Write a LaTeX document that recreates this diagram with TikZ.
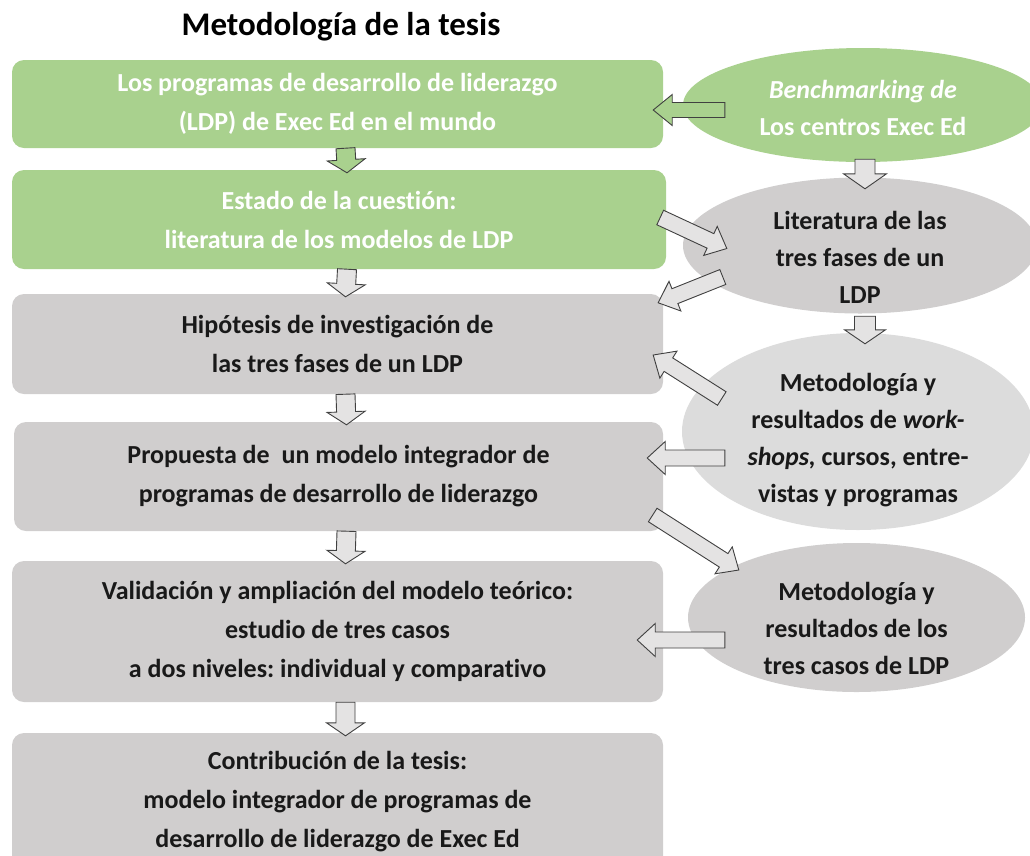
\documentclass[tikz,border=0pt]{standalone}
\usepackage{fontspec}
\setmainfont{Carlito}[Ligatures={NoCommon}]
\usetikzlibrary{shapes.geometric, calc}
\frenchspacing

\definecolor{ldpgreen}{HTML}{A9D18E}
\definecolor{boxgrey}{HTML}{D0CECE}
\definecolor{ovalgrey}{HTML}{DCDCDC}
\definecolor{arrowgrey}{HTML}{E4E3E3}

\newcommand{\boxfont}{\bfseries\fontsize{26}{39}\selectfont}
\newcommand{\ovalfont}{\bfseries\fontsize{26}{37}\selectfont}

% block arrow: [style]{tail}{tip}{half shaft}{half head}{head length}
\newcommand{\blkarrow}[6][blk, fill=arrowgrey]{%
  \coordinate (hb) at ($(#3)!#6!(#2)$);
  \draw[#1] ($(#2)!#4!90:(#3)$) -- ($(hb)!#4!90:(#3)$) -- ($(hb)!#5!90:(#3)$) -- (#3)
    -- ($(hb)!#5!-90:(#3)$) -- ($(hb)!#4!-90:(#3)$) -- ($(#2)!#4!-90:(#3)$) -- cycle;}

\begin{document}
\begin{tikzpicture}[x=1pt, y=-1pt,
  box/.style={rectangle, rounded corners=12pt, minimum width=651pt, align=center, font=\boxfont},
  green box/.style={box, fill=ldpgreen, text=white},
  grey box/.style={box, fill=boxgrey, text=black!90},
  oval/.style={ellipse, inner sep=0pt},
  oval text/.style={align=center, font=\ovalfont, text=black!90},
  blk/.style={draw=black!75, line width=0.9pt, line join=miter}]

  \useasboundingbox (0,0) rectangle (1030,855);

  \node[font=\bfseries\fontsize{33}{38}\selectfont] (title) at (341,27) {Metodología de la tesis};

  % main column
  \node[green box, minimum height=88pt] (prog) at (337.5,104) {Los programas de desarrollo de liderazgo\\(LDP) de Exec Ed en el mundo};
  \node[green box, minimum width=654pt, minimum height=99pt] (estado) at (339,219.5) {Estado de la cuestión:\\literatura de los modelos de LDP};
  \node[grey box, minimum height=100pt] (hipo) at (337.5,344) {Hipótesis de investigación de\\las tres fases de un LDP};
  \node[grey box, minimum width=649pt, minimum height=109pt] (propuesta) at (338.5,476.5) {Propuesta de \ un modelo integrador de\\programas de desarrollo de liderazgo};
  \node[grey box, minimum height=141pt] (valid) at (337.5,631.5) {Validación y ampliación del modelo teórico:\\estudio de tres casos\\a dos niveles: individual y comparativo};
  \node[grey box, minimum height=137pt] (contrib) at (337.5,801.5) {Contribución de la tesis:\\modelo integrador de programas de\\desarrollo de liderazgo de Exec Ed};

  % side ellipses
  \node[oval, fill=ldpgreen, minimum width=360pt, minimum height=114pt] (bench) at (863,105) {};
  \node[oval text, text=white] (bench text) at (863,108) {\textit{Benchmarking de}\\Los centros Exec Ed};
  \node[oval, fill=boxgrey, minimum width=354pt, minimum height=136pt] (lit) at (860,245.5) {};
  \node[oval text] (lit text) at (860,257) {Literatura de las\\tres fases de un\\LDP};
  \node[oval, fill=ovalgrey, minimum width=352pt, minimum height=197pt] (metodo) at (858,431.5) {};
  \node[oval text] (metodo text) at (858,440) {Metodología y\\resultados de \textit{work-}\\\textit{shops,} cursos, entre-\\vistas y programas};
  \node[oval, fill=boxgrey, minimum width=337pt, minimum height=149pt] (casos) at (856.5,617.5) {};
  \node[oval text] (casos text) at (856.5,628) {Metodología y\\resultados de los\\tres casos de LDP};

  % arrows down the column
  \foreach \a/\b/\c in {prog/estado/ldpgreen, estado/hipo/arrowgrey, hipo/propuesta/arrowgrey,
    propuesta/valid/arrowgrey, valid/contrib/arrowgrey}
    {\blkarrow[blk, fill=\c]{[xshift=8pt]\a.south}{[xshift=8pt,yshift=-3pt]\b.north}{9.5pt}{19pt}{13pt}}

  % arrows between the ellipses and the column
  \blkarrow[blk, fill=ldpgreen]{[xshift=42pt,yshift=-5pt]bench.west}{[xshift=-10pt,yshift=-6pt]prog.east}{7.5pt}{15.5pt}{19pt}
  \blkarrow{[xshift=2pt,yshift=3pt]bench.south}{[xshift=5pt,yshift=-11.5pt]lit.north}{10pt}{21.5pt}{15pt}
  \blkarrow{[xshift=-6pt,yshift=2pt]estado.east}{[xshift=44pt,yshift=-3pt]lit.west}{8pt}{16pt}{18pt}
  \blkarrow{[xshift=40pt,yshift=-31.5pt]lit.west}{[xshift=-5pt,yshift=-9pt]hipo.north east}{8pt}{16pt}{18pt}
  \blkarrow{[xshift=5pt,yshift=-2.5pt]lit.south}{[xshift=7pt,yshift=-11pt]metodo.north}{10.5pt}{20.5pt}{14pt}
  \blkarrow{[xshift=40pt,yshift=33pt]metodo.west}{[xshift=-10pt,yshift=-11pt]hipo.east}{8pt}{16pt}{18pt}
  \blkarrow{[xshift=43pt,yshift=-26.5pt]metodo.west}{[xshift=-16pt,yshift=18.5pt]propuesta.east}{8pt}{16.5pt}{18pt}
  \blkarrow{[xshift=-10.5pt,yshift=-38.5pt]propuesta.east}{[xshift=51pt,yshift=47.5pt]casos.west}{8pt}{16pt}{18pt}
  \blkarrow{[xshift=37pt,yshift=-22.5pt]casos.west}{[xshift=-26pt,yshift=-8.5pt]valid.east}{8pt}{16.5pt}{18pt}
\end{tikzpicture}
\end{document}
